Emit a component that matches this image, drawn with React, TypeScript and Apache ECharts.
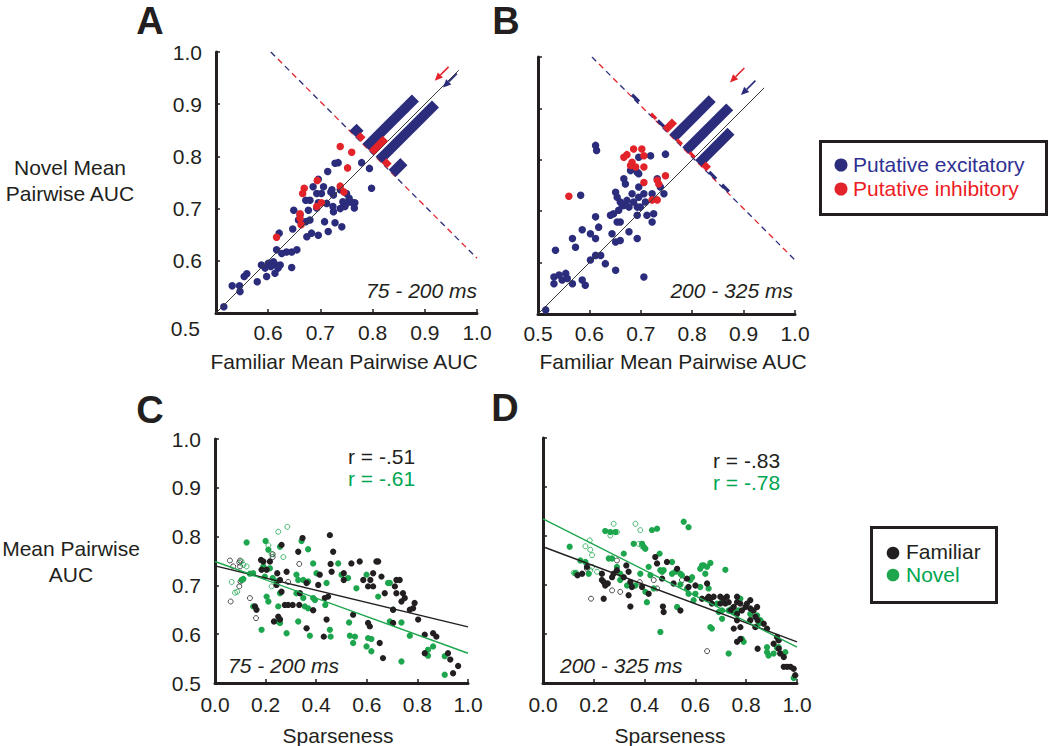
import React, { useEffect, useRef } from "react";
import * as echarts from "echarts";

const FONT = "Arial, Liberation Sans, Helvetica, sans-serif";
const NAVY = "#2b2c7c";
const RED = "#e2232a";
const GREEN = "#1ea64e";
const BLACK = "#231f20";
const TXT_BLUE = "#2e3192";
const TXT_RED = "#ed1c24";
const TXT_GREEN = "#00a651";

// ---------- Panel A (75 - 200 ms): [familiar AUC, novel AUC]
const aExcitatory: number[][] = [
  [0.515, 0.512], [0.531, 0.552], [0.545, 0.552], [0.546, 0.541], [0.554, 0.57], [0.559, 0.575], [0.579, 0.56],
  [0.587, 0.592], [0.594, 0.586], [0.6, 0.595], [0.605, 0.589], [0.61, 0.598], [0.615, 0.592], [0.619, 0.586],
  [0.597, 0.57], [0.613, 0.576], [0.623, 0.592], [0.645, 0.587],
  [0.616, 0.621], [0.626, 0.614], [0.635, 0.617], [0.645, 0.617], [0.655, 0.621], [0.621, 0.653],
  [0.647, 0.661], [0.674, 0.646], [0.683, 0.653], [0.696, 0.649], [0.715, 0.656], [0.741, 0.665],
  [0.658, 0.678], [0.672, 0.675], [0.68, 0.678], [0.708, 0.675], [0.728, 0.673],
  [0.649, 0.697], [0.661, 0.688], [0.677, 0.697], [0.693, 0.701], [0.725, 0.694],
  [0.672, 0.716], [0.696, 0.711], [0.712, 0.71], [0.724, 0.704], [0.745, 0.707], [0.75, 0.71], [0.765, 0.701],
  [0.693, 0.729], [0.702, 0.729], [0.72, 0.732], [0.738, 0.736],
  [0.686, 0.742], [0.706, 0.742], [0.722, 0.736], [0.725, 0.726], [0.75, 0.729], [0.766, 0.711],
  [0.696, 0.756], [0.714, 0.771], [0.728, 0.787], [0.734, 0.788], [0.779, 0.788], [0.794, 0.777], [0.798, 0.739],
  [0.743, 0.713], [0.747, 0.704], [0.68, 0.716], [0.755, 0.72], [0.76, 0.712], [0.738, 0.7],
];
const aInhibitory: number[][] = [
  [0.738, 0.819], [0.76, 0.808], [0.752, 0.778], [0.694, 0.754], [0.669, 0.739], [0.666, 0.729], [0.738, 0.743],
  [0.745, 0.732], [0.702, 0.711], [0.693, 0.704], [0.661, 0.69], [0.661, 0.681], [0.663, 0.669], [0.616, 0.645],
];
// histogram of (novel - familiar) along the anti-diagonal
const aHistDiff = [0.08, 0.03, -0.02, -0.07];
const aHistExc = [3, 21, 24, 5];
const aHistInh = [2, 6, 2, 0];
const aArrowDiff = [-0.003, 0.026]; // excitatory, inhibitory means
const aArrowTipSum = [1.867, 1.864];
const aArrowTailSum = [1.92, 1.917];
const aIdentity = [0.5, 0.965];

// ---------- Panel B (200 - 325 ms)
const bExcitatory: number[][] = [
  [0.515, 0.508], [0.531, 0.572], [0.531, 0.559], [0.541, 0.576], [0.547, 0.566], [0.554, 0.579], [0.557, 0.569],
  [0.567, 0.559], [0.586, 0.566], [0.592, 0.556], [0.534, 0.624],
  [0.567, 0.647], [0.573, 0.63], [0.586, 0.664], [0.602, 0.656], [0.612, 0.689], [0.618, 0.669], [0.612, 0.647],
  [0.602, 0.605], [0.612, 0.614], [0.631, 0.598], [0.651, 0.585], [0.622, 0.614],
  [0.612, 0.828], [0.614, 0.818], [0.583, 0.731],
  [0.641, 0.692], [0.647, 0.695], [0.654, 0.679], [0.66, 0.679], [0.644, 0.656], [0.651, 0.64], [0.66, 0.643],
  [0.677, 0.66], [0.693, 0.647], [0.693, 0.692], [0.712, 0.692], [0.722, 0.679], [0.725, 0.695],
  [0.651, 0.737], [0.654, 0.727], [0.66, 0.718], [0.667, 0.711], [0.673, 0.721], [0.683, 0.734], [0.686, 0.718],
  [0.696, 0.727], [0.677, 0.708], [0.699, 0.708], [0.709, 0.718], [0.693, 0.708],
  [0.667, 0.763], [0.67, 0.753], [0.68, 0.779], [0.693, 0.776], [0.696, 0.773],
  [0.696, 0.747], [0.706, 0.734], [0.722, 0.734], [0.732, 0.763], [0.738, 0.747], [0.745, 0.734], [0.748, 0.811],
  [0.719, 0.808], [0.696, 0.805], [0.706, 0.572], [0.664, 0.711], [0.657, 0.702],
];
const bInhibitory: number[][] = [
  [0.56, 0.729], [0.667, 0.805], [0.683, 0.795], [0.686, 0.821], [0.702, 0.821], [0.706, 0.808], [0.68, 0.789],
  [0.706, 0.786], [0.69, 0.786], [0.732, 0.76], [0.735, 0.753], [0.748, 0.769], [0.706, 0.756], [0.722, 0.722],
  [0.732, 0.722], [0.673, 0.81],
];
const bHistDiff = [0.23, 0.18, 0.13, 0.08, 0.03, -0.02, -0.07, -0.12];
const bHistExc = [1, 0, 1, 17, 19, 14, 1, 1];
const bHistInh = [0, 1, 4, 1, 1, 2, 0, 0];
const bArrowDiff = [0.031, 0.077];
const bArrowTipSum = [1.821, 1.824];
const bArrowTailSum = [1.877, 1.88];
const bIdentity = [0.5, 0.94];

// anti-diagonal: familiar + novel = ANTI_SUM
const ANTI_SUM = 1.605;
const antiDiagonal = [[0.605, 1.0], [1.0, 0.605]];
const HIST_UNIT = 0.0045; // AUC units per neuron along the diagonal

// ---------- Panel C (75 - 200 ms): [sparseness, mean pairwise AUC]
const cFamiliar: number[][] = [
  [0.182, 0.752], [0.191, 0.749], [0.217, 0.749], [0.184, 0.732], [0.263, 0.783], [0.246, 0.725], [0.283, 0.728],
  [0.329, 0.769], [0.346, 0.797], [0.362, 0.705], [0.336, 0.684], [0.333, 0.66], [0.289, 0.66], [0.276, 0.66],
  [0.263, 0.687], [0.257, 0.711], [0.243, 0.701], [0.257, 0.63], [0.233, 0.626], [0.25, 0.636], [0.362, 0.612],
  [0.388, 0.649], [0.408, 0.701], [0.414, 0.722], [0.434, 0.674], [0.441, 0.63], [0.43, 0.595], [0.457, 0.744],
  [0.461, 0.728], [0.454, 0.803], [0.467, 0.769], [0.447, 0.677], [0.509, 0.725], [0.539, 0.745], [0.546, 0.64],
  [0.605, 0.698], [0.605, 0.623], [0.612, 0.616], [0.625, 0.725], [0.638, 0.749], [0.645, 0.749], [0.614, 0.711],
  [0.658, 0.718], [0.651, 0.582], [0.664, 0.551], [0.671, 0.684], [0.704, 0.65], [0.704, 0.623], [0.711, 0.698],
  [0.73, 0.711], [0.717, 0.684], [0.743, 0.684], [0.737, 0.667], [0.75, 0.674], [0.789, 0.664], [0.77, 0.65],
  [0.783, 0.653], [0.803, 0.63], [0.829, 0.599], [0.862, 0.602], [0.875, 0.595], [0.829, 0.561], [0.921, 0.561],
  [0.93, 0.548], [0.941, 0.52], [0.961, 0.535], [0.625, 0.698], [0.586, 0.711], [0.717, 0.711], [0.572, 0.749],
  [0.509, 0.711], [0.164, 0.65], [0.158, 0.657], [0.307, 0.66], [0.204, 0.732],
];
const cFamiliarOpen: number[][] = [
  [0.062, 0.667], [0.096, 0.698], [0.101, 0.708], [0.096, 0.747], [0.099, 0.751], [0.138, 0.674], [0.162, 0.633],
  [0.228, 0.764], [0.228, 0.758], [0.333, 0.744], [0.289, 0.707], [0.059, 0.751], [0.072, 0.739], [0.099, 0.739],
];
const cNovel: number[][] = [
  [0.125, 0.788], [0.2, 0.791], [0.211, 0.773], [0.257, 0.779], [0.342, 0.791], [0.368, 0.774], [0.191, 0.739],
  [0.217, 0.735], [0.197, 0.718], [0.228, 0.715], [0.243, 0.708], [0.257, 0.684], [0.204, 0.677], [0.211, 0.667],
  [0.25, 0.657], [0.25, 0.626], [0.257, 0.623], [0.184, 0.609], [0.283, 0.602], [0.322, 0.722], [0.329, 0.711],
  [0.349, 0.711], [0.368, 0.708], [0.322, 0.684], [0.349, 0.674], [0.355, 0.657], [0.368, 0.653], [0.388, 0.674],
  [0.395, 0.67], [0.401, 0.725], [0.388, 0.745], [0.441, 0.705], [0.436, 0.66], [0.329, 0.626], [0.375, 0.597],
  [0.454, 0.609], [0.457, 0.595], [0.487, 0.745], [0.5, 0.722], [0.526, 0.715], [0.559, 0.694], [0.53, 0.624],
  [0.533, 0.597], [0.546, 0.582], [0.553, 0.595], [0.599, 0.722], [0.599, 0.575], [0.605, 0.592], [0.618, 0.59],
  [0.618, 0.565], [0.645, 0.677], [0.684, 0.705], [0.691, 0.705], [0.704, 0.65], [0.691, 0.626], [0.737, 0.624],
  [0.77, 0.597], [0.737, 0.544], [0.842, 0.568], [0.842, 0.556], [0.862, 0.575], [0.908, 0.555], [0.908, 0.517],
  [0.138, 0.724], [0.151, 0.725], [0.105, 0.711], [0.112, 0.713], [0.151, 0.657],
];
const cNovelOpen: number[][] = [
  [0.286, 0.82], [0.25, 0.81], [0.211, 0.782], [0.224, 0.764], [0.27, 0.758], [0.088, 0.687], [0.079, 0.685],
  [0.066, 0.707], [0.224, 0.698], [0.125, 0.739], [0.112, 0.742], [0.105, 0.749],
];
const fitX = [0, 1];
const cFitFamiliar = [0.74, 0.615];
const cFitNovel = [0.749, 0.561];

// ---------- Panel D (200 - 325 ms)
const dFamiliar: number[][] = [
  [0.136, 0.72], [0.154, 0.723], [0.173, 0.737], [0.232, 0.723], [0.232, 0.71], [0.239, 0.706], [0.245, 0.699],
  [0.239, 0.672], [0.255, 0.703], [0.272, 0.716], [0.278, 0.723], [0.291, 0.73], [0.318, 0.716], [0.328, 0.74],
  [0.337, 0.727], [0.337, 0.679], [0.344, 0.706], [0.35, 0.696], [0.344, 0.656], [0.39, 0.696], [0.416, 0.682],
  [0.442, 0.757], [0.449, 0.744], [0.469, 0.713], [0.472, 0.656], [0.475, 0.645], [0.488, 0.747], [0.514, 0.703],
  [0.528, 0.733], [0.541, 0.648], [0.567, 0.713], [0.573, 0.696], [0.6, 0.699], [0.626, 0.672], [0.646, 0.703],
  [0.646, 0.672], [0.652, 0.676], [0.659, 0.672], [0.665, 0.662], [0.672, 0.676], [0.698, 0.662], [0.711, 0.672],
  [0.718, 0.662], [0.724, 0.676], [0.731, 0.665], [0.738, 0.648], [0.751, 0.655], [0.764, 0.676], [0.764, 0.665],
  [0.777, 0.662], [0.783, 0.648], [0.764, 0.641], [0.764, 0.628], [0.777, 0.614], [0.797, 0.655], [0.803, 0.662],
  [0.816, 0.669], [0.816, 0.652], [0.829, 0.648], [0.836, 0.635], [0.843, 0.655], [0.845, 0.628], [0.816, 0.628],
  [0.764, 0.584], [0.777, 0.59], [0.845, 0.57], [0.836, 0.614], [0.921, 0.594], [0.928, 0.587], [0.928, 0.57],
  [0.934, 0.56], [0.948, 0.553], [0.948, 0.533], [0.961, 0.533], [0.974, 0.533], [0.987, 0.529], [0.993, 0.516],
  [0.908, 0.58], [0.751, 0.611], [0.698, 0.676], [0.869, 0.621], [0.882, 0.611],
];
const dFamiliarOpen: number[][] = [
  [0.173, 0.733], [0.189, 0.672], [0.272, 0.689], [0.291, 0.75], [0.304, 0.686], [0.381, 0.706], [0.436, 0.71],
  [0.449, 0.693], [0.547, 0.71], [0.646, 0.565],
];
const dNovel: number[][] = [
  [0.105, 0.778], [0.147, 0.75], [0.127, 0.724], [0.167, 0.747], [0.18, 0.723], [0.245, 0.81], [0.265, 0.808],
  [0.285, 0.808], [0.259, 0.754], [0.272, 0.754], [0.291, 0.737], [0.304, 0.71], [0.304, 0.723], [0.318, 0.764],
  [0.331, 0.699], [0.357, 0.784], [0.364, 0.699], [0.383, 0.723], [0.39, 0.784], [0.396, 0.778], [0.403, 0.774],
  [0.403, 0.686], [0.409, 0.665], [0.429, 0.812], [0.449, 0.815], [0.416, 0.737], [0.423, 0.72], [0.436, 0.693],
  [0.459, 0.764], [0.462, 0.73], [0.469, 0.727], [0.475, 0.73], [0.508, 0.747], [0.508, 0.723], [0.521, 0.727],
  [0.541, 0.723], [0.547, 0.72], [0.554, 0.829], [0.573, 0.818], [0.567, 0.693], [0.58, 0.71], [0.573, 0.682],
  [0.593, 0.669], [0.587, 0.716], [0.6, 0.682], [0.619, 0.733], [0.626, 0.74], [0.633, 0.74], [0.639, 0.723],
  [0.652, 0.693], [0.659, 0.745], [0.659, 0.614], [0.665, 0.611], [0.685, 0.662], [0.692, 0.645], [0.705, 0.648],
  [0.705, 0.631], [0.705, 0.665], [0.718, 0.731], [0.731, 0.56], [0.731, 0.648], [0.744, 0.652], [0.751, 0.645],
  [0.77, 0.648], [0.777, 0.672], [0.79, 0.584], [0.783, 0.59], [0.816, 0.628], [0.816, 0.641], [0.843, 0.638],
  [0.849, 0.621], [0.856, 0.628], [0.882, 0.573], [0.882, 0.563], [0.888, 0.556], [0.908, 0.56], [0.921, 0.572],
  [0.928, 0.573], [0.954, 0.563], [0.462, 0.604], [0.987, 0.51], [0.646, 0.737], [0.619, 0.696], [0.528, 0.655],
  [0.541, 0.701],
];
const dNovelOpen: number[][] = [
  [0.121, 0.725], [0.131, 0.725], [0.167, 0.779], [0.184, 0.791], [0.186, 0.772], [0.193, 0.761], [0.265, 0.801],
  [0.278, 0.825], [0.291, 0.808], [0.364, 0.825], [0.383, 0.812], [0.377, 0.784], [0.39, 0.779], [0.186, 0.73],
  [0.193, 0.737], [0.213, 0.727],
];
const dFitFamiliar = [0.778, 0.584];
const dFitNovel = [0.835, 0.573];

// ---------- helpers
const font = (size: number, extra = "") => `${extra} ${size}px ${FONT}`.trim();

function makeAxis(
  gridIndex: number,
  min: number,
  max: number,
  interval: number,
  showLabels: boolean,
  margin: number,
  hideMin = false
): any {
  return {
    type: "value",
    gridIndex,
    min,
    max,
    interval,
    axisLine: { show: true, onZero: false, lineStyle: { color: BLACK, width: 3 } },
    axisTick: { show: true, inside: true, length: 4, lineStyle: { color: BLACK, width: 1.5 } },
    splitLine: { show: false },
    axisLabel: {
      show: showLabels,
      margin,
      fontSize: 21,
      fontFamily: FONT,
      color: BLACK,
      showMinLabel: true,
      showMaxLabel: true,
      formatter: (v: number) => (hideMin && Math.abs(v - min) < 1e-6 ? "" : v.toFixed(1)),
    },
  };
}

function scatter(idx: number, data: number[][], color: string, size: number, hollow = false): any {
  return {
    type: "scatter",
    xAxisIndex: idx,
    yAxisIndex: idx,
    data,
    symbol: "circle",
    symbolSize: size,
    silent: true,
    z: hollow ? 2 : 3,
    itemStyle: hollow
      ? { color: "rgba(255,255,255,0)", borderColor: color, borderWidth: 1 }
      : { color, opacity: 1 },
  };
}

function segment(idx: number, pts: number[][], color: string, width: number, extra: any = {}): any {
  return {
    type: "line",
    xAxisIndex: idx,
    yAxisIndex: idx,
    data: pts,
    symbol: "none",
    showSymbol: false,
    silent: true,
    z: 4,
    lineStyle: { color, width, ...extra },
  };
}

function histSeries(idx: number, diffs: number[], counts: number[], color: string, offset: number, width: number): any {
  return {
    type: "custom",
    xAxisIndex: idx,
    yAxisIndex: idx,
    coordinateSystem: "cartesian2d",
    silent: true,
    clip: false,
    z: 6,
    data: diffs.map((d, i) => [d, counts[i]]),
    renderItem: (_p: any, api: any) => {
      const d = api.value(0) + offset;
      const c = api.value(1);
      if (!c) return null;
      const h = width / 2;
      const len = c * HIST_UNIT;
      const pt = (dd: number, l: number) => api.coord([(ANTI_SUM - dd) / 2 + l, (ANTI_SUM + dd) / 2 + l]);
      return {
        type: "polygon",
        shape: { points: [pt(d - h, 0), pt(d + h, 0), pt(d + h, len), pt(d - h, len)] },
        style: { fill: color },
      };
    },
  };
}

function arrowSeries(idx: number, diff: number, tipSum: number, tailSum: number, color: string): any {
  return {
    type: "custom",
    xAxisIndex: idx,
    yAxisIndex: idx,
    coordinateSystem: "cartesian2d",
    silent: true,
    clip: false,
    z: 7,
    data: [[diff, tipSum, tailSum]],
    renderItem: (_p: any, api: any) => {
      const d = api.value(0);
      const s1 = api.value(1);
      const s0 = api.value(2);
      const tip = api.coord([(s1 - d) / 2, (s1 + d) / 2]);
      const tail = api.coord([(s0 - d) / 2, (s0 + d) / 2]);
      const dx = tip[0] - tail[0];
      const dy = tip[1] - tail[1];
      const L = Math.hypot(dx, dy) || 1;
      const ux = dx / L;
      const uy = dy / L;
      const hl = 8;
      const hw = 3.6;
      const base = [tip[0] - ux * hl, tip[1] - uy * hl];
      const left = [base[0] - uy * hw, base[1] + ux * hw];
      const right = [base[0] + uy * hw, base[1] - ux * hw];
      return {
        type: "group",
        children: [
          { type: "line", shape: { x1: tail[0], y1: tail[1], x2: base[0], y2: base[1] }, style: { stroke: color, lineWidth: 1.6 } },
          { type: "polygon", shape: { points: [tip, left, right] }, style: { fill: color } },
        ],
      };
    },
  };
}

function txt(x: number, y: number, text: string, size: number, color = BLACK, align = "center", extra = ""): any {
  return {
    type: "text",
    x,
    y,
    silent: true,
    style: { text, font: font(size, extra), fill: color, textAlign: align, textVerticalAlign: "middle" },
  };
}

function buildOption(): any {
  const grids = [
    { left: 216, top: 52, width: 261, height: 261 },
    { left: 538, top: 57, width: 257, height: 257 },
    { left: 215, top: 439, width: 253, height: 244 },
    { left: 543, top: 438, width: 254, height: 245 },
  ];
  const xAxis = [
    makeAxis(0, 0.5, 1.0, 0.1, true, 9, true),
    makeAxis(1, 0.5, 1.0, 0.1, true, 9),
    makeAxis(2, 0, 1.0, 0.2, true, 11),
    makeAxis(3, 0, 1.0, 0.2, true, 11),
  ];
  const yAxis = [
    makeAxis(0, 0.5, 1.0, 0.1, true, 14, true),
    makeAxis(1, 0.5, 1.0, 0.1, false, 14),
    makeAxis(2, 0.5, 1.0, 0.1, true, 14),
    makeAxis(3, 0.5, 1.0, 0.1, false, 14),
  ];

  const panelAB = (
    idx: number,
    exc: number[][],
    inh: number[][],
    identity: number[],
    hDiff: number[],
    hExc: number[],
    hInh: number[],
    arrDiff: number[],
    arrTip: number[],
    arrTail: number[]
  ) => [
    scatter(idx, exc, NAVY, 7.5),
    scatter(idx, inh, RED, 7.5),
    segment(idx, [[identity[0], identity[0]], [identity[1], identity[1]]], "#3a3a3a", 1),
    segment(idx, antiDiagonal, NAVY, 1.3, { type: [6, 14], dashOffset: 0 }),
    segment(idx, antiDiagonal, RED, 1.3, { type: [6, 14], dashOffset: 10 }),
    histSeries(idx, hDiff, hExc, NAVY, 0, 0.027),
    histSeries(idx, hDiff, hInh, RED, -0.02, 0.02),
    arrowSeries(idx, arrDiff[0], arrTip[0], arrTail[0], NAVY),
    arrowSeries(idx, arrDiff[1], arrTip[1], arrTail[1], RED),
  ];

  const panelCD = (
    idx: number,
    fam: number[][],
    famOpen: number[][],
    nov: number[][],
    novOpen: number[][],
    fitF: number[],
    fitN: number[]
  ) => [
    scatter(idx, famOpen, BLACK, 5, true),
    scatter(idx, novOpen, GREEN, 5, true),
    scatter(idx, nov, GREEN, 6.3),
    scatter(idx, fam, BLACK, 6.3),
    segment(idx, [[fitX[0], fitF[0]], [fitX[1], fitF[1]]], BLACK, 1.4),
    segment(idx, [[fitX[0], fitN[0]], [fitX[1], fitN[1]]], GREEN, 1.4),
  ];

  const series = [
    ...panelAB(0, aExcitatory, aInhibitory, aIdentity, aHistDiff, aHistExc, aHistInh, aArrowDiff, aArrowTipSum, aArrowTailSum),
    ...panelAB(1, bExcitatory, bInhibitory, bIdentity, bHistDiff, bHistExc, bHistInh, bArrowDiff, bArrowTipSum, bArrowTailSum),
    ...panelCD(2, cFamiliar, cFamiliarOpen, cNovel, cNovelOpen, cFitFamiliar, cFitNovel),
    ...panelCD(3, dFamiliar, dFamiliarOpen, dNovel, dNovelOpen, dFitFamiliar, dFitNovel),
  ];

  const graphic = [
    // panel letters
    txt(150, 21, "A", 38, BLACK, "center", "bold"),
    txt(506, 21, "B", 38, BLACK, "center", "bold"),
    txt(150, 410, "C", 38, BLACK, "center", "bold"),
    txt(505, 408, "D", 38, BLACK, "center", "bold"),
    // lowest y tick label of panel A (set below the axis)
    txt(200, 328, "0.5", 21, BLACK, "right"),
    // axis titles
    txt(70, 167, "Novel Mean", 21),
    txt(70, 193, "Pairwise AUC", 21),
    txt(344, 361, "Familiar Mean Pairwise AUC", 21),
    txt(673, 361, "Familiar Mean Pairwise AUC", 21),
    txt(71, 548, "Mean Pairwise", 21),
    txt(71, 574, "AUC", 21),
    txt(338, 735, "Sparseness", 21),
    txt(670, 735, "Sparseness", 21),
    // time windows
    txt(477, 290, "75 - 200 ms", 21, BLACK, "right", "italic"),
    txt(793, 290, "200 - 325 ms", 21, BLACK, "right", "italic"),
    txt(228, 665, "75 - 200 ms", 21, BLACK, "left", "italic"),
    txt(560, 665, "200 - 325 ms", 21, BLACK, "left", "italic"),
    // correlations
    txt(348, 456, "r = -.51", 21, BLACK, "left"),
    txt(348, 478, "r = -.61", 21, TXT_GREEN, "left"),
    txt(713, 460, "r = -.83", 21, BLACK, "left"),
    txt(713, 482, "r = -.78", 21, TXT_GREEN, "left"),
    // legend 1
    {
      type: "rect",
      silent: true,
      shape: { x: 820.5, y: 141.5, width: 226, height: 73 },
      style: { fill: "#fff", stroke: BLACK, lineWidth: 3 },
    },
    { type: "circle", silent: true, shape: { cx: 841, cy: 165, r: 6.5 }, style: { fill: NAVY } },
    { type: "circle", silent: true, shape: { cx: 841, cy: 189, r: 6.5 }, style: { fill: RED } },
    txt(853, 164, "Putative excitatory", 21, TXT_BLUE, "left"),
    txt(853, 188, "Putative inhibitory", 21, TXT_RED, "left"),
    // legend 2
    {
      type: "rect",
      silent: true,
      shape: { x: 871.5, y: 527.5, width: 125, height: 75 },
      style: { fill: "#fff", stroke: BLACK, lineWidth: 3 },
    },
    { type: "circle", silent: true, shape: { cx: 893, cy: 553, r: 6.3 }, style: { fill: BLACK } },
    { type: "circle", silent: true, shape: { cx: 893, cy: 575, r: 6.3 }, style: { fill: GREEN } },
    txt(906, 551, "Familiar", 21, BLACK, "left"),
    txt(906, 574, "Novel", 21, TXT_GREEN, "left"),
  ];

  return {
    animation: false,
    backgroundColor: "#ffffff",
    textStyle: { fontFamily: FONT },
    grid: grids,
    xAxis,
    yAxis,
    series,
    graphic,
  };
}

export default function App() {
  const ref = useRef<HTMLDivElement>(null);
  useEffect(() => {
    document.body.style.margin = "0";
    if (!ref.current) return;
    const chart = echarts.init(ref.current, null, { renderer: "svg" });
    chart.setOption(buildOption());
    return () => {
      chart.dispose();
    };
  }, []);
  return <div ref={ref} style={{ width: 1050, height: 746, background: "#fff" }} />;
}
